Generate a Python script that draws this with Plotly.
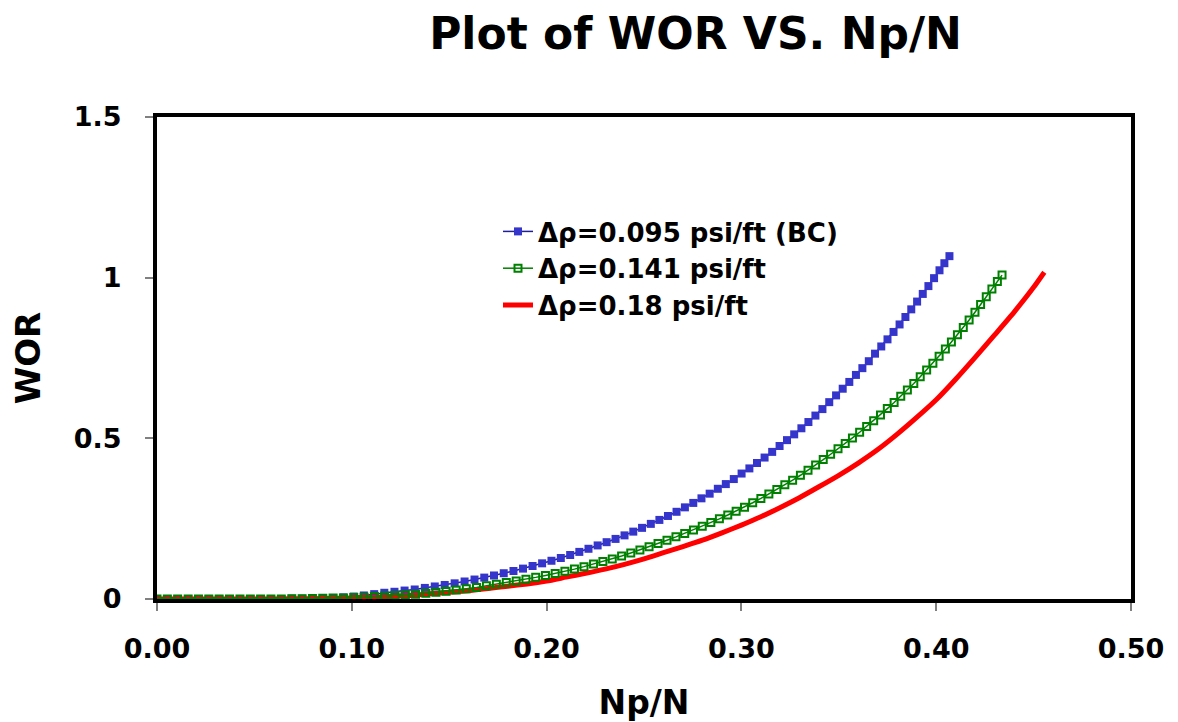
import plotly.graph_objects as go

# ---- data ----
names = ["Δρ=0.095 psi/ft (BC)", "Δρ=0.141 psi/ft", "Δρ=0.18 psi/ft"]

bc_x = [0, 0.0053, 0.0106, 0.0160, 0.0213, 0.0266, 0.0319, 0.0372, 0.0426, 0.0479,
        0.0532, 0.0585, 0.0638, 0.0692, 0.0745, 0.0798, 0.0851, 0.0904, 0.0957, 0.1010,
        0.1062, 0.1115, 0.1167, 0.1219, 0.1271, 0.1323, 0.1375, 0.1426, 0.1477, 0.1528,
        0.1579, 0.1630, 0.1680, 0.1730, 0.1780, 0.1830, 0.1879, 0.1928, 0.1977, 0.2025,
        0.2073, 0.2121, 0.2168, 0.2215, 0.2262, 0.2308, 0.2354, 0.2400, 0.2445, 0.2490,
        0.2535, 0.2579, 0.2623, 0.2667, 0.2710, 0.2753, 0.2795, 0.2837, 0.2879, 0.2920,
        0.2961, 0.3001, 0.3041, 0.3080, 0.3119, 0.3158, 0.3196, 0.3234, 0.3271, 0.3308,
        0.3344, 0.3380, 0.3416, 0.3451, 0.3486, 0.3520, 0.3554, 0.3588, 0.3621, 0.3654,
        0.3686, 0.3718, 0.3750, 0.3781, 0.3812, 0.3842, 0.3872, 0.3902, 0.3931, 0.3960,
        0.3989, 0.4017, 0.4042, 0.4068]
bc_wor = [0, 0, 0, 0, 0, 0, 0, 0, 0, 0,
          0, 0, 0, 0.001, 0.001, 0.002, 0.002, 0.003, 0.005, 0.0076,
          0.011, 0.0152, 0.0194, 0.0225, 0.0263, 0.0296, 0.0345, 0.039, 0.0437, 0.0488,
          0.0545, 0.0606, 0.0666, 0.0732, 0.0802, 0.0872, 0.0946, 0.1027, 0.111, 0.119,
          0.1276, 0.137, 0.1466, 0.1563, 0.1667, 0.1768, 0.187, 0.198, 0.2097, 0.2214,
          0.2338, 0.2461, 0.2584, 0.2714, 0.2852, 0.299, 0.3133, 0.3278, 0.343, 0.3576,
          0.3733, 0.3904, 0.4064, 0.4232, 0.4402, 0.4578, 0.4761, 0.4944, 0.5124, 0.5313,
          0.5507, 0.5708, 0.591, 0.6126, 0.6336, 0.6544, 0.6755, 0.6973, 0.7184, 0.74,
          0.7635, 0.7859, 0.808, 0.8311, 0.8544, 0.8776, 0.9014, 0.9256, 0.9494, 0.9738,
          0.9985, 1.023, 1.045, 1.067]

mid_x = [0, 0.0053, 0.0106, 0.0160, 0.0213, 0.0266, 0.0319, 0.0372, 0.0426, 0.0479,
         0.0532, 0.0585, 0.0638, 0.0692, 0.0745, 0.0798, 0.0851, 0.0904, 0.0957, 0.1010,
         0.1063, 0.1116, 0.1169, 0.1222, 0.1275, 0.1327, 0.1380, 0.1432, 0.1484, 0.1536,
         0.1588, 0.1640, 0.1691, 0.1742, 0.1793, 0.1844, 0.1894, 0.1944, 0.1994, 0.2044,
         0.2094, 0.2143, 0.2192, 0.2241, 0.2289, 0.2337, 0.2385, 0.2432, 0.2479, 0.2526,
         0.2572, 0.2618, 0.2664, 0.2709, 0.2754, 0.2799, 0.2843, 0.2887, 0.2930, 0.2973,
         0.3016, 0.3058, 0.3100, 0.3141, 0.3182, 0.3223, 0.3263, 0.3303, 0.3342, 0.3381,
         0.3420, 0.3458, 0.3496, 0.3533, 0.3570, 0.3607, 0.3643, 0.3679, 0.3714, 0.3749,
         0.3784, 0.3818, 0.3852, 0.3885, 0.3918, 0.3951, 0.3983, 0.4015, 0.4047, 0.4078,
         0.4109, 0.4139, 0.4169, 0.4199, 0.4228, 0.4257, 0.4286, 0.4314, 0.4338]
mid_wor = [0, 0, 0, 0, 0, 0, 0, 0, 0, 0,
           0, 0, 0, 0.001, 0.001, 0.0015, 0.002, 0.003, 0.0035, 0.0043,
           0.0056, 0.0075, 0.009, 0.0109, 0.013, 0.0151, 0.0178, 0.0209, 0.0239, 0.0279,
           0.032, 0.0361, 0.0411, 0.0462, 0.0513, 0.0564, 0.0614, 0.0673, 0.0733, 0.0793,
           0.0862, 0.093, 0.1007, 0.1086, 0.117, 0.1247, 0.134, 0.1434, 0.1528, 0.1626,
           0.1729, 0.183, 0.1934, 0.2042, 0.215, 0.2267, 0.2382, 0.2494, 0.2614, 0.2734,
           0.2858, 0.2995, 0.313, 0.3269, 0.3411, 0.3553, 0.3699, 0.3851, 0.4006, 0.417,
           0.4338, 0.4505, 0.4672, 0.4842, 0.5014, 0.519, 0.5372, 0.555, 0.573, 0.5925,
           0.6114, 0.6306, 0.6506, 0.6707, 0.6915, 0.713, 0.7338, 0.7555, 0.7779, 0.8,
           0.8224, 0.8453, 0.8684, 0.8922, 0.9162, 0.9404, 0.9644, 0.9879, 1.008]

hi_x = [0, 0.02, 0.04, 0.06, 0.08, 0.09, 0.10, 0.11, 0.12, 0.13, 0.14, 0.15, 0.16,
        0.17, 0.18, 0.19, 0.20, 0.21, 0.22, 0.23, 0.24, 0.25, 0.26, 0.27, 0.28, 0.29,
        0.30, 0.31, 0.32, 0.33, 0.34, 0.35, 0.36, 0.37, 0.38, 0.39, 0.40, 0.41, 0.42,
        0.43, 0.44, 0.45, 0.4555]
hi_wor = [0, 0, 0, 0.0003, 0.001, 0.002, 0.003, 0.005, 0.008, 0.011, 0.016, 0.021, 0.026,
          0.033, 0.040, 0.047, 0.056, 0.068, 0.080, 0.093, 0.108, 0.125, 0.144, 0.163, 0.183, 0.206,
          0.230, 0.256, 0.285, 0.316, 0.350, 0.385, 0.423, 0.465, 0.513, 0.565, 0.620, 0.684, 0.752,
          0.822, 0.893, 0.970, 1.017]

x_ticks = [0, 0.1, 0.2, 0.3, 0.4, 0.5]
x_tick_text = ["0.00", "0.10", "0.20", "0.30", "0.40", "0.50"]
y_ticks = [0, 0.5, 1, 1.5]
y_tick_text = ["0", "0.5", "1", "1.5"]

FONT = "DejaVu Sans"
OFF = 8  # page body margin compensation

fig = go.Figure()
fig.add_trace(go.Scatter(
    x=bc_x, y=bc_wor, name=names[0], mode="lines+markers", legendrank=1,
    line=dict(color="#1f1f99", width=1.5),
    marker=dict(symbol="square", size=8, color="#3535CC", line=dict(width=0)),
))
fig.add_trace(go.Scatter(
    x=hi_x, y=hi_wor, name=names[2], mode="lines", legendrank=3,
    line=dict(color="#FF0000", width=5, shape="spline", smoothing=0.6),
))
fig.add_trace(go.Scatter(
    x=mid_x, y=mid_wor, name=names[1], mode="lines+markers", legendrank=2,
    line=dict(color="#008000", width=1.5),
    marker=dict(symbol="square-open", size=7, color="#008000", line=dict(width=2, color="#008000")),
))

fig.update_layout(
    width=1178, height=722,
    paper_bgcolor="white", plot_bgcolor="white",
    margin=dict(l=157 - OFF, r=47 + OFF, t=117 - OFF, b=123 + OFF),
    font=dict(family=FONT, color="black", weight="bold"),
    title=dict(text="Plot of WOR VS. Np/N", x=(695.5 - OFF) / 1178, xanchor="center", xref="container",
               y=1 - (34 - OFF) / 722, yanchor="middle",
               font=dict(family=FONT, size=44, color="black", weight="bold")),
    showlegend=True,
    legend=dict(x=(498 - 157) / 974, y=(599 - 208) / 482, xanchor="left", yanchor="top",
                bgcolor="rgba(0,0,0,0)", borderwidth=0, traceorder="normal",
                font=dict(family=FONT, size=26, color="black", weight="bold"),
                itemwidth=30, tracegroupgap=0),
    xaxis=dict(range=[0, 0.5], tickvals=x_ticks, ticktext=x_tick_text,
               showgrid=False, zeroline=False,
               showline=True, linecolor="black", linewidth=4, mirror=True,
               ticks="outside", ticklen=8, tickcolor="#808080", tickwidth=1.5,
               ticklabelstandoff=15,
               tickfont=dict(family=FONT, size=27, color="black", weight="bold"),
               title=dict(text="Np/N", standoff=28,
                          font=dict(family=FONT, size=33, color="black", weight="bold"))),
    yaxis=dict(range=[0, 1.5], tickvals=y_ticks, ticktext=y_tick_text,
               showgrid=False, zeroline=False,
               showline=True, linecolor="black", linewidth=4, mirror=True,
               ticks="outside", ticklen=8, tickcolor="#808080", tickwidth=1.5,
               ticklabelstandoff=18,
               tickfont=dict(family=FONT, size=27, color="black", weight="bold"),
               title=dict(text="WOR", standoff=25,
                          font=dict(family=FONT, size=34, color="black", weight="bold"))),
)

fig.write_html("out.html")
